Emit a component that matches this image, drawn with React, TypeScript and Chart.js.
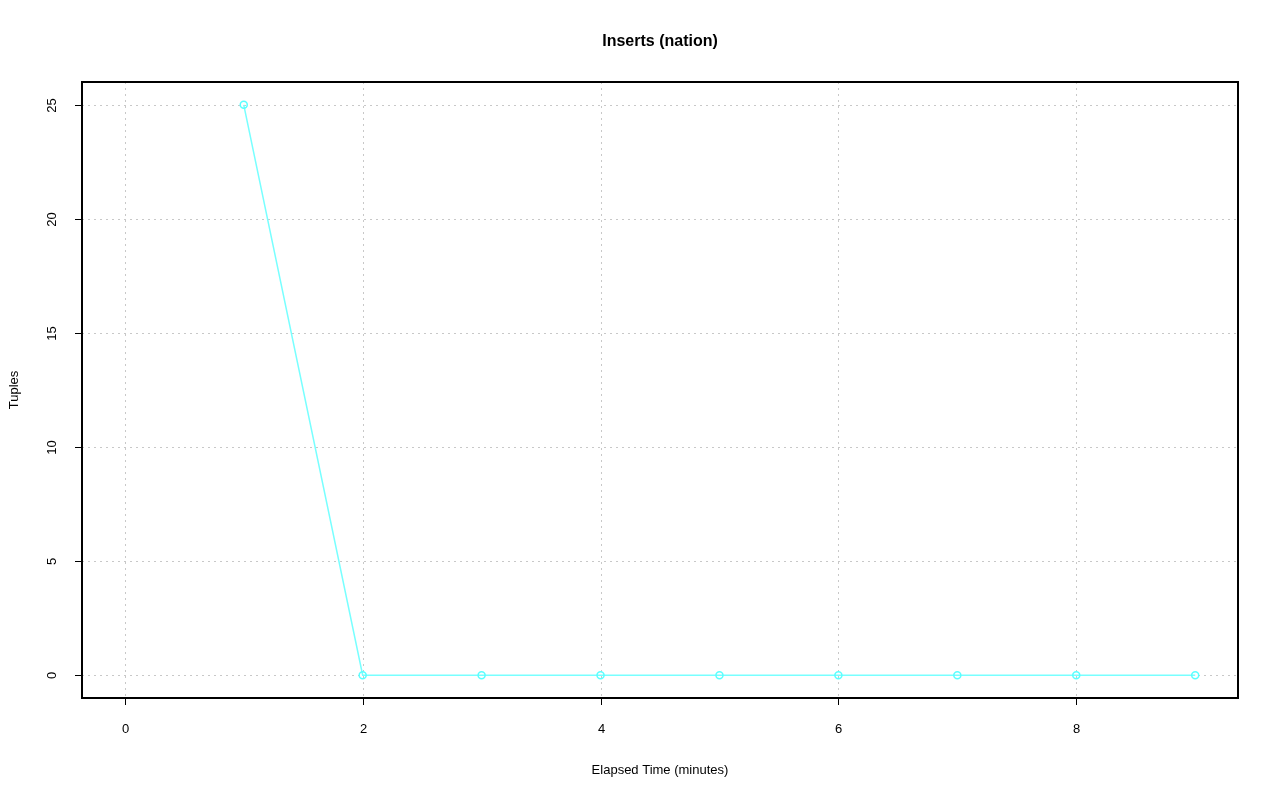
import React, { useEffect, useRef } from "react";
import { Chart, registerables } from "chart.js";

Chart.register(...registerables);

const title = "Inserts (nation)";
const xTitle = "Elapsed Time (minutes)";
const yTitle = "Tuples";
const minutes = [1, 2, 3, 4, 5, 6, 7, 8, 9];
const tuples = [25, 0, 0, 0, 0, 0, 0, 0, 0];
const xTicks = [0, 2, 4, 6, 8];
const yTicks = [0, 5, 10, 15, 20, 25];

const FONT = "'Liberation Sans', Arial, Helvetica, sans-serif";

const rPlot = {
  id: "rPlot",
  beforeDatasetsDraw(chart: any) {
    const { ctx, chartArea: a, scales } = chart;
    const xs = scales.x, ys = scales.y;
    ctx.save();
    ctx.strokeStyle = "#c8c8c8";
    ctx.lineWidth = 1;
    ctx.setLineDash([2, 4]);
    for (const t of xTicks) {
      const px = Math.round(xs.getPixelForValue(t)) + 0.5;
      ctx.beginPath();
      ctx.moveTo(px, a.top);
      ctx.lineTo(px, a.bottom);
      ctx.stroke();
    }
    for (const t of yTicks) {
      const py = Math.round(ys.getPixelForValue(t)) + 0.5;
      ctx.beginPath();
      ctx.moveTo(a.left, py);
      ctx.lineTo(a.right, py);
      ctx.stroke();
    }
    ctx.restore();
  },
  afterDraw(chart: any) {
    const { ctx, chartArea: a, scales } = chart;
    const xs = scales.x, ys = scales.y;
    ctx.save();
    ctx.setLineDash([]);
    ctx.strokeStyle = "#000";
    ctx.lineWidth = 2;
    ctx.strokeRect(a.left, a.top, a.right - a.left, a.bottom - a.top);
    ctx.lineWidth = 1;
    ctx.fillStyle = "#000";
    ctx.font = `13px ${FONT}`;
    ctx.textAlign = "center";
    ctx.textBaseline = "middle";
    for (const t of xTicks) {
      const px = Math.round(xs.getPixelForValue(t)) + 0.5;
      ctx.beginPath();
      ctx.moveTo(px, a.bottom);
      ctx.lineTo(px, a.bottom + 7);
      ctx.stroke();
      ctx.fillText(String(t), px, a.bottom + 31);
    }
    for (const t of yTicks) {
      const py = Math.round(ys.getPixelForValue(t)) + 0.5;
      ctx.beginPath();
      ctx.moveTo(a.left, py);
      ctx.lineTo(a.left - 7, py);
      ctx.stroke();
      ctx.save();
      ctx.translate(a.left - 30, py);
      ctx.rotate(-Math.PI / 2);
      ctx.fillText(String(t), 0, 0);
      ctx.restore();
    }
    const cx = (a.left + a.right) / 2;
    const cy = (a.top + a.bottom) / 2;
    ctx.fillText(xTitle, cx, a.bottom + 72);
    ctx.save();
    ctx.translate(a.left - 68, cy);
    ctx.rotate(-Math.PI / 2);
    ctx.fillText(yTitle, 0, 0);
    ctx.restore();
    ctx.font = `bold 16px ${FONT}`;
    ctx.fillText(title, cx, 42);
    ctx.restore();
  },
};

export default function App() {
  const ref = useRef<HTMLCanvasElement>(null);
  useEffect(() => {
    document.body.style.margin = "0";
    const chart = new Chart(ref.current!, {
      type: "line",
      data: {
        datasets: [
          {
            data: minutes.map((m, i) => ({ x: m, y: tuples[i] })),
            borderColor: "rgb(120,255,255)",
            borderWidth: 1.5,
            pointRadius: 3.5,
            pointBorderWidth: 1.5,
            pointBorderColor: "rgb(90,255,255)",
            pointBackgroundColor: "rgba(0,0,0,0)",
            fill: false,
            tension: 0,
          },
        ],
      },
      options: {
        animation: false,
        responsive: false,
        layout: { padding: { left: 82, right: 42, top: 82, bottom: 103 } },
        plugins: { legend: { display: false }, tooltip: { enabled: false }, title: { display: false } },
        scales: {
          x: { type: "linear", min: -0.36, max: 9.36, display: false },
          y: { type: "linear", min: -1, max: 26, display: false },
        },
      },
      plugins: [rPlot],
    });
    return () => chart.destroy();
  }, []);
  return (
    <div style={{ position: "absolute", left: 0, top: 0, width: 1280, height: 801, background: "#fff" }}>
      <canvas ref={ref} width={1280} height={801} style={{ width: 1280, height: 801 }} />
    </div>
  );
}
